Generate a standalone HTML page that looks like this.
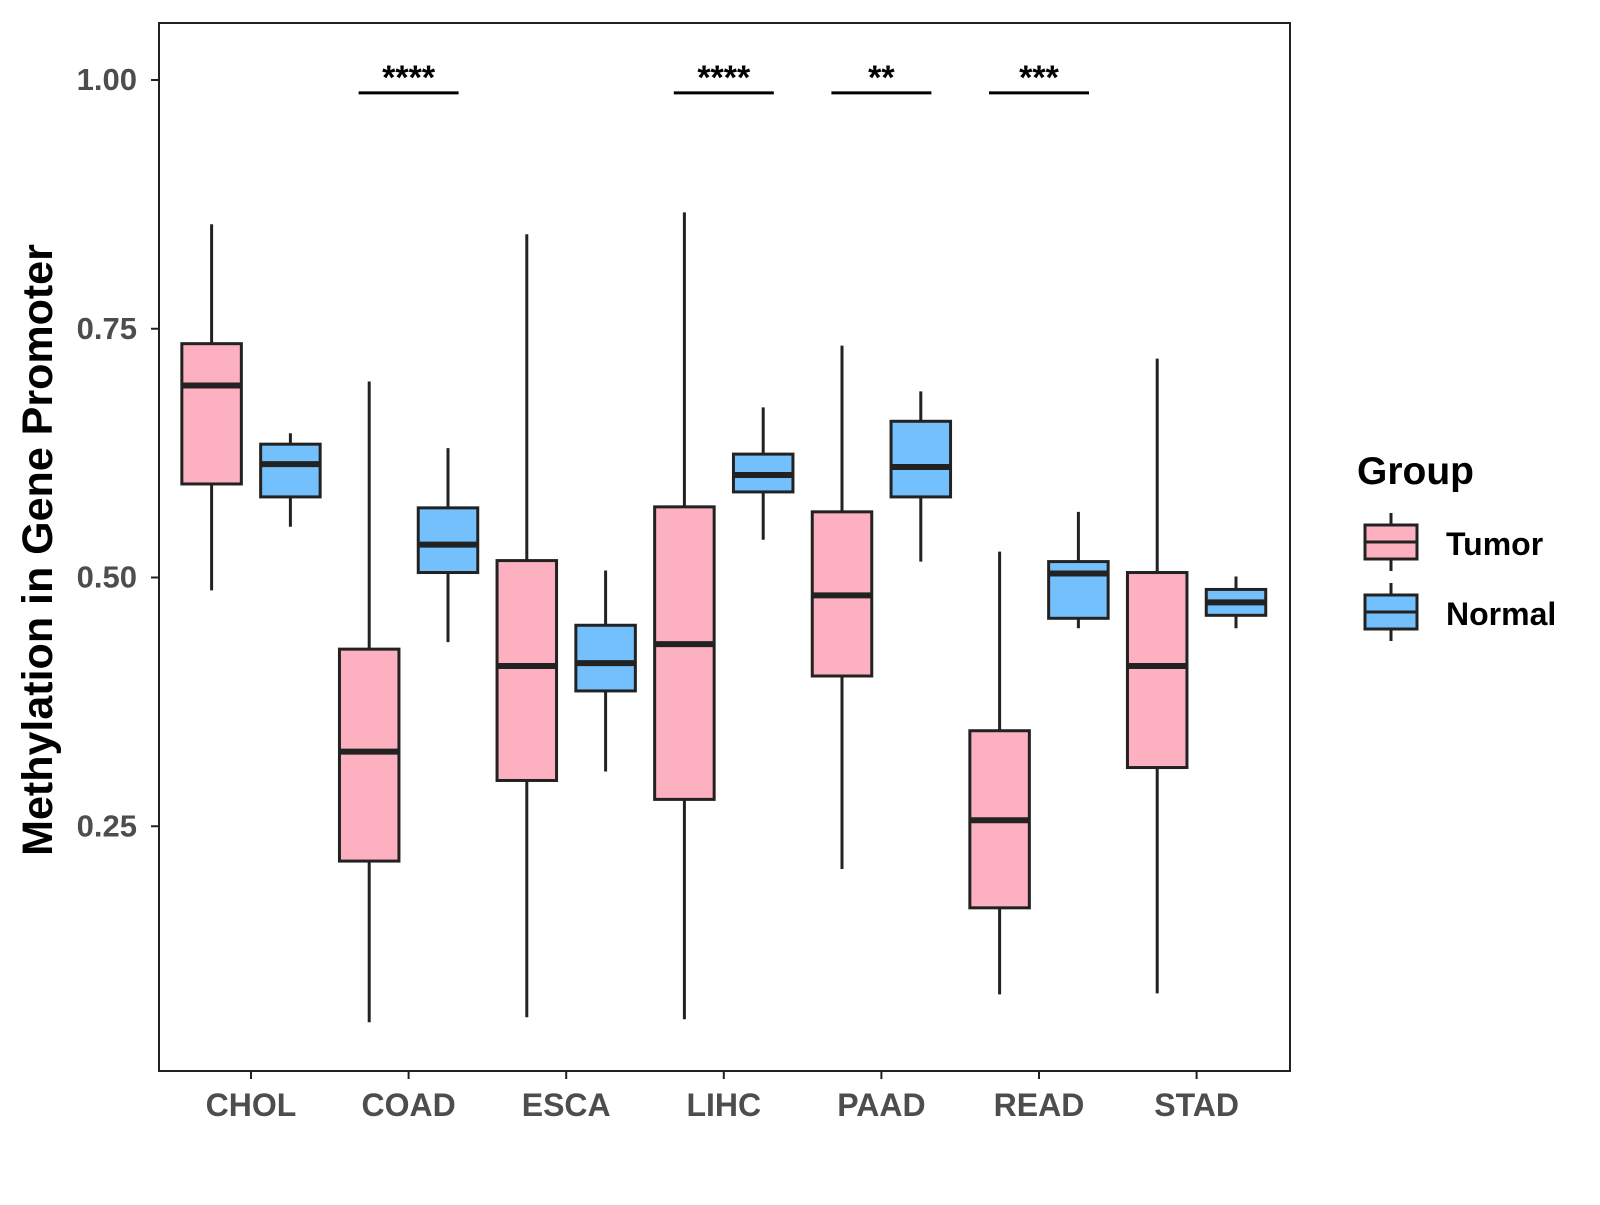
<!DOCTYPE html>
<html><head><meta charset="utf-8"><style>
html,body{margin:0;padding:0;background:#fff;}
svg text{font-family:"Liberation Sans",Arial,sans-serif;font-weight:bold;}
</style></head><body>
<svg id="chart" width="1600" height="1200" viewBox="0 0 1600 1200">
<rect x="159" y="23" width="1131" height="1048" fill="#fff" stroke="#222" stroke-width="2"/>
<g id="marks"></g>
<text x="52" y="550" font-size="43" fill="#000" text-anchor="middle" transform="rotate(-90 52 550)">Methylation in Gene Promoter</text>
<g transform="translate(-7,0)">
<text x="1364" y="484" font-size="39" fill="#000">Group</text>
<g>
<line x1="1398" y1="513" x2="1398" y2="571" stroke="#222" stroke-width="3"/>
<rect x="1372" y="525" width="52" height="34" fill="#FDB0C0" stroke="#222" stroke-width="3"/>
<line x1="1372" y1="542" x2="1424" y2="542" stroke="#222" stroke-width="3"/>
<text x="1453" y="555" font-size="32" fill="#000">Tumor</text>
</g>
<g>
<line x1="1398" y1="583" x2="1398" y2="641" stroke="#222" stroke-width="3"/>
<rect x="1372" y="595" width="52" height="34" fill="#74C0FC" stroke="#222" stroke-width="3"/>
<line x1="1372" y1="612" x2="1424" y2="612" stroke="#222" stroke-width="3"/>
<text x="1453" y="625" font-size="32" fill="#000">Normal</text>
</g>
</g>
</svg>
<script>
const categories=["CHOL","COAD","ESCA","LIHC","PAAD","READ","STAD"];
// [lower whisker, q1, median, q3, upper whisker]
const tumorStats=[[0.487,0.594,0.693,0.735,0.855],[0.053,0.215,0.325,0.428,0.697],[0.058,0.296,0.411,0.517,0.845],[0.056,0.277,0.433,0.571,0.867],[0.207,0.401,0.482,0.566,0.733],[0.081,0.168,0.256,0.346,0.526],[0.082,0.309,0.411,0.505,0.720]];
const normalStats=[[0.551,0.581,0.614,0.634,0.645],[0.435,0.505,0.533,0.570,0.630],[0.305,0.386,0.414,0.452,0.507],[0.538,0.586,0.603,0.624,0.671],[0.516,0.581,0.611,0.657,0.687],[0.449,0.459,0.504,0.516,0.566],[0.449,0.462,0.475,0.488,0.501]];
const yTicks=[0.25,0.5,0.75,1.0];
const yTickLabels=["0.25","0.50","0.75","1.00"];
const sigCats=["COAD","LIHC","PAAD","READ"];
const sigLabels=["****","****","**","***"];
const sigY=0.987;
const NS="http://www.w3.org/2000/svg";
const y=v=>80+(1-v)*995;
const x=i=>251+i*157.6;
const g=document.getElementById('marks');
function el(t,a){const e=document.createElementNS(NS,t);for(const k in a)e.setAttribute(k,a[k]);g.appendChild(e);return e;}
yTicks.forEach((v,i)=>{
 const t=el('line',{x1:151,x2:159,y1:y(v),y2:y(v),stroke:'#222','stroke-width':2});
 
 
 const l=el('text',{x:137,y:y(v)+10,'font-size':31,fill:'#4d4d4d','text-anchor':'end'});
 l.textContent=yTickLabels[i];
 
 
});
categories.forEach((c,i)=>{
 const t=el('line',{x1:x(i),x2:x(i),y1:1071,y2:1079,stroke:'#222','stroke-width':2});
 
 
 const l=el('text',{x:x(i),y:1116,'font-size':32,fill:'#4d4d4d','text-anchor':'middle'});
 l.textContent=c;
 
 
});
function box(cx,s,fill,name){
 const w=59.5;
 const wl=el('line',{x1:cx,x2:cx,y1:y(s[0]),y2:y(s[4]),stroke:'#222','stroke-width':3});
 
 
 const r=el('rect',{x:cx-w/2,y:y(s[3]),width:w,height:y(s[1])-y(s[3]),fill:fill,stroke:'#222','stroke-width':3});
 
 
 const m=el('line',{x1:cx-w/2,x2:cx+w/2,y1:y(s[2]),y2:y(s[2]),stroke:'#222','stroke-width':6});
 
 
}
categories.forEach((c,i)=>{
 box(x(i)-39.4,tumorStats[i],'#FDB0C0','tumor-'+c.toLowerCase());
 box(x(i)+39.4,normalStats[i],'#74C0FC','normal-'+c.toLowerCase());
});
sigCats.forEach((c,k)=>{
 const i=categories.indexOf(c);
 const b=el('line',{x1:x(i)-50,x2:x(i)+50,y1:y(sigY),y2:y(sigY),stroke:'#000','stroke-width':3});
 
 
 const t=el('text',{x:x(i),y:y(sigY)-4,'font-size':34,fill:'#000','text-anchor':'middle'});
 t.textContent=sigLabels[k];
 
 
});
</script>
</body></html>
